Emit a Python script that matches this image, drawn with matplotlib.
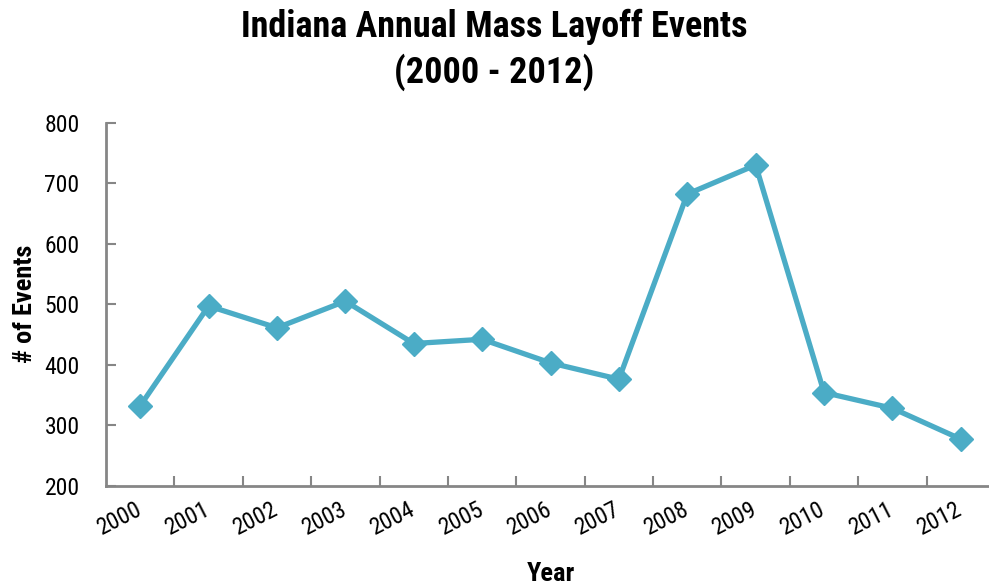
import matplotlib
matplotlib.use("Agg")
import matplotlib.pyplot as plt
from matplotlib import font_manager
from matplotlib.transforms import ScaledTranslation

years = ["2000", "2001", "2002", "2003", "2004", "2005", "2006",
         "2007", "2008", "2009", "2010", "2011", "2012"]
events = [332, 497, 461, 505, 435, 442, 403, 376, 682, 730, 354, 328, 277]
y_ticks = [200, 300, 400, 500, 600, 700, 800]

installed = {f.name for f in font_manager.fontManager.ttflist}
family = next((f for f in ["Roboto Condensed", "Archivo Narrow", "Liberation Sans"]
               if f in installed), "DejaVu Sans")
plt.rcParams["font.family"] = [family, "DejaVu Sans"]

line_color = "#4BACC6"
axis_color = "#868686"

fig = plt.figure(figsize=(9.89, 5.88), dpi=100)
left = 106 / 989
width = 889 / 989
bottom = 1 - 485.7 / 588
height = (485.7 - 122.7) / 588
ax = fig.add_axes([left, bottom, width, height])

x = list(range(len(years)))
ax.plot(x, events, color=line_color, lw=3.8, marker="D", markersize=12.5,
        markerfacecolor=line_color, markeredgecolor=line_color, clip_on=False)

ax.set_xlim(-0.5, len(years) - 0.5)
ax.set_ylim(200, 800)
ax.set_yticks(y_ticks)
ax.set_yticklabels([str(v) for v in y_ticks], fontsize=17)

# category boundaries carry the tick marks, the labels sit at the centres
ax.set_xticks([i + 0.5 for i in range(len(years) - 1)])
ax.set_xticklabels([])
ax.set_xticks(x, minor=True)
ax.set_xticklabels(years, minor=True, fontsize=17, rotation=27,
                   ha="right", va="center", rotation_mode="anchor")
shift = ScaledTranslation(7 / 100, 0, fig.dpi_scale_trans)
for lbl in ax.xaxis.get_minorticklabels():
    lbl.set_transform(lbl.get_transform() + shift)
ax.tick_params(axis="x", which="minor", length=0, pad=16)
ax.tick_params(axis="x", which="major", direction="in", length=7,
               width=1.5, color=axis_color)
ax.tick_params(axis="y", direction="in", length=7, width=1.5,
               color=axis_color, pad=19)

for side in ("top", "right"):
    ax.spines[side].set_visible(False)
for side in ("left", "bottom"):
    ax.spines[side].set_color(axis_color)
    ax.spines[side].set_linewidth(2)

ax.set_xlabel("Year", fontsize=19, fontweight="bold", va="center")
ax.xaxis.set_label_coords(0.5006, -0.243)
ax.set_ylabel("# of Events", fontsize=19, fontweight="bold", va="center")
ax.yaxis.set_label_coords(-0.091, 0.5)

fig.suptitle("Indiana Annual Mass Layoff Events\n(2000 - 2012)",
             fontsize=26, fontweight="bold", y=0.985, linespacing=1.28)

fig.savefig("out.png", dpi=100)
